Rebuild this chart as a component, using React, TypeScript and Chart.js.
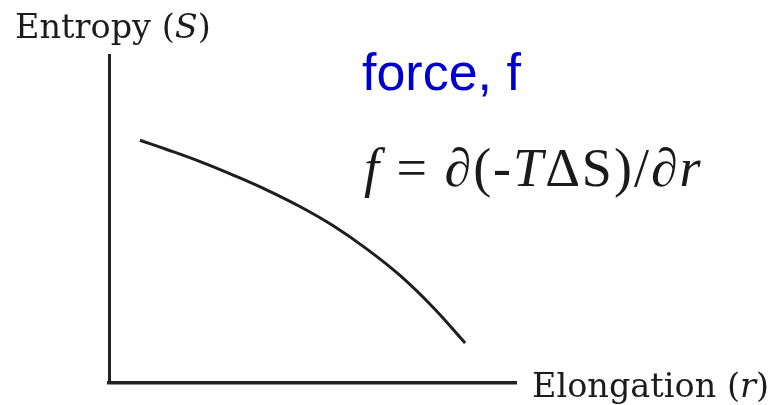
import React, { useEffect, useRef } from "react";
import { Chart, registerables } from "chart.js";

Chart.register(...registerables);

// Elongation (r) and entropy (S) along the drawn curve, in arbitrary units 0–10
const elongation = [0.76, 1.42, 2.24, 3.05, 3.87, 4.69, 5.5, 6.33, 7.15, 7.96, 8.75];
const entropy = [7.4, 7.12, 6.75, 6.34, 5.89, 5.38, 4.8, 4.09, 3.28, 2.31, 1.22];

type Seg = { t: string; italic?: boolean };

const yAxisLabel: Seg[] = [{ t: "Entropy (" }, { t: "S", italic: true }, { t: ")" }];
const xAxisLabel: Seg[] = [{ t: "Elongation (" }, { t: "r", italic: true }, { t: ")" }];
const forceLabel = "force, f";
const forceFormula: Seg[] = [
  { t: "f", italic: true },
  { t: " = \u2202(-" },
  { t: "T", italic: true },
  { t: "\u0394S" },
  { t: ")/\u2202" },
  { t: "r", italic: true },
];

function drawRun(
  ctx: CanvasRenderingContext2D,
  segs: Seg[],
  x: number,
  y: number,
  size: number,
  family: string,
  color: string,
  spacing = 0
) {
  let cx = x;
  ctx.fillStyle = color;
  ctx.textBaseline = "alphabetic";
  ctx.textAlign = "left";
  (ctx as any).letterSpacing = `${spacing}px`;
  for (const s of segs) {
    ctx.font = `${s.italic ? "italic " : ""}${size}px ${family}`;
    ctx.fillText(s.t, cx, y);
    cx += ctx.measureText(s.t).width;
  }
  (ctx as any).letterSpacing = "0px";
}

const labelsPlugin = {
  id: "figureLabels",
  afterDraw(chart: Chart) {
    const ctx = chart.ctx;
    const { left, top, right, bottom } = chart.chartArea;
    ctx.save();
    drawRun(ctx, yAxisLabel, left - 94, top - 17, 33.5, "'DejaVu Serif'", "#1c1c1c");
    drawRun(ctx, xAxisLabel, right + 16, bottom + 14, 33.5, "'DejaVu Serif'", "#1c1c1c");
    drawRun(ctx, [{ t: forceLabel }], 362, 90, 52, "'Liberation Sans', Arial", "#0000cc");
    drawRun(ctx, forceFormula, 364, 186, 54, "'Liberation Serif', 'Times New Roman'", "#1a1a1a", 2);
    ctx.restore();
  },
};

export default function App() {
  const canvasRef = useRef<HTMLCanvasElement | null>(null);

  useEffect(() => {
    document.body.style.margin = "0";
    const canvas = canvasRef.current;
    if (!canvas) return;
    const chart = new Chart(canvas, {
      type: "line",
      data: {
        datasets: [
          {
            data: elongation.map((x, i) => ({ x, y: entropy[i] })),
            borderColor: "#1e1e1e",
            borderWidth: 3,
            pointRadius: 0,
            tension: 0.4,
            fill: false,
          },
        ],
      },
      options: {
        animation: false,
        responsive: false,
        maintainAspectRatio: false,
        layout: { padding: { left: 101, top: 55, right: 255, bottom: 14 } },
        plugins: { legend: { display: false }, tooltip: { enabled: false } },
        scales: {
          x: {
            type: "linear",
            min: 0,
            max: 10,
            grid: { display: false },
            ticks: { display: false },
            border: { display: true, color: "#222", width: 3.5 },
          },
          y: {
            type: "linear",
            min: 0,
            max: 10,
            grid: { display: false },
            ticks: { display: false },
            border: { display: true, color: "#222", width: 3 },
          },
        },
      },
      plugins: [labelsPlugin],
    });
    return () => chart.destroy();
  }, []);

  return (
    <div style={{ position: "fixed", left: 0, top: 0, width: 771, height: 405, background: "#fff" }}>
      <canvas ref={canvasRef} width={771} height={405} />
    </div>
  );
}
